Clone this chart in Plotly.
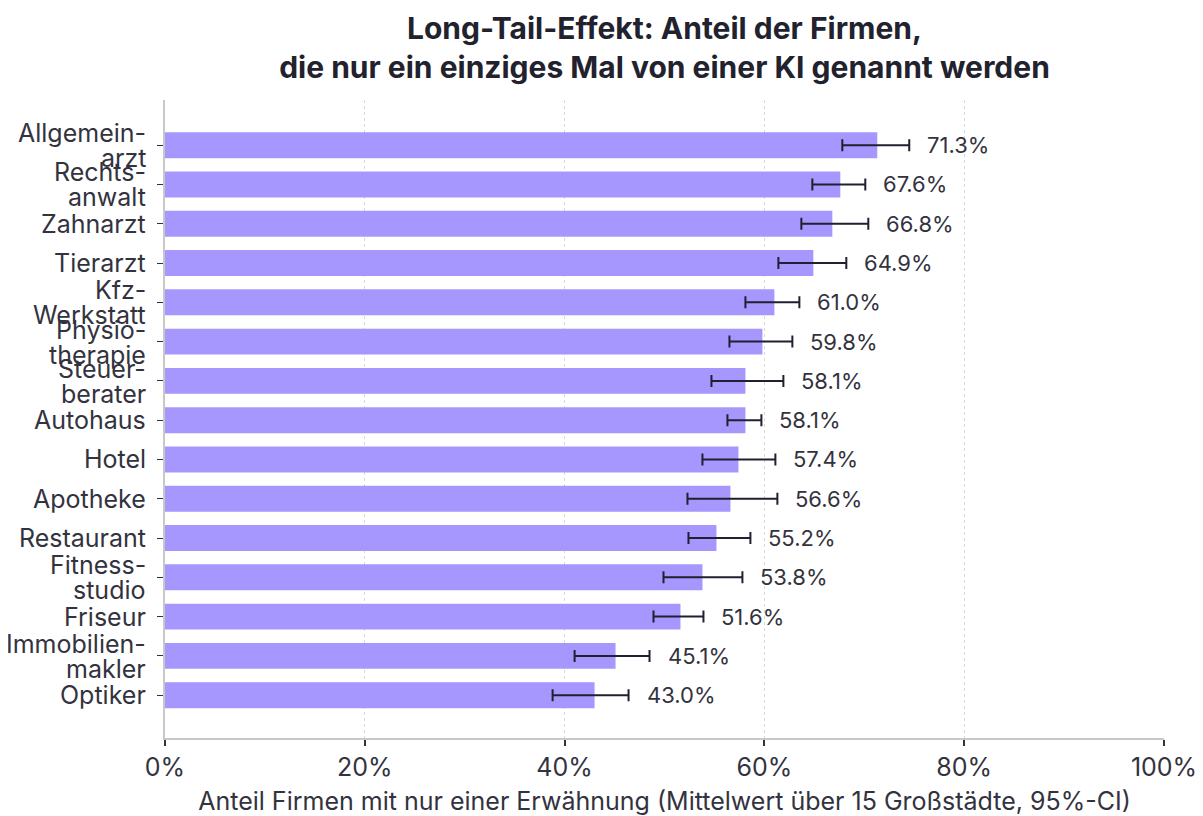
import plotly.graph_objects as go

categories = ["Allgemein-<br>arzt", "Rechts-<br>anwalt", "Zahnarzt", "Tierarzt", "Kfz-<br>Werkstatt",
              "Physio-<br>therapie", "Steuer-<br>berater", "Autohaus", "Hotel", "Apotheke",
              "Restaurant", "Fitness-<br>studio", "Friseur", "Immobilien-<br>makler", "Optiker"]
values = [71.3, 67.6, 66.8, 64.9, 61.0, 59.8, 58.1, 58.1, 57.4, 56.6, 55.2, 53.8, 51.6, 45.1, 43.0]
ci_low = [67.8, 64.8, 63.7, 61.4, 58.1, 56.5, 54.7, 56.3, 53.8, 52.3, 52.4, 49.9, 48.9, 41.0, 38.8]
ci_high = [74.5, 70.1, 70.4, 68.2, 63.5, 62.8, 61.9, 59.7, 61.1, 61.3, 58.6, 57.8, 53.9, 48.5, 46.4]
x_ticks = [0, 20, 40, 60, 80, 100]
x_ticklabels = ["0%", "20%", "40%", "60%", "80%", "100%"]

FONT = "Inter, Roboto, sans-serif"
TXT = "#333340"
idx = list(range(len(categories)))

fig = go.Figure()
fig.add_trace(go.Bar(
    y=idx, x=values, orientation="h",
    marker=dict(color="#A597FD", line=dict(width=0)),
    width=0.66,
    error_x=dict(type="data", symmetric=False,
                 array=[h - v for h, v in zip(ci_high, values)],
                 arrayminus=[v - l for v, l in zip(values, ci_low)],
                 color="#1f2030", thickness=2, width=6),
    hoverinfo="skip",
))

for i, (v, h) in enumerate(zip(values, ci_high)):
    fig.add_annotation(x=h, y=i, text=f"{v:.1f}%", showarrow=False,
                       xanchor="left", xshift=16,
                       font=dict(family=FONT, size=22, color=TXT))

# category labels (tight line spacing, as in the reference)
for i, lab in enumerate(categories):
    lines = lab.split("<br>")
    n = len(lines)
    for k, line in enumerate(lines):
        shift = 0 if n == 1 else (12 if k == 0 else -13)
        fig.add_annotation(xref="paper", x=0, y=i, text=line, showarrow=False,
                           xanchor="right", xshift=-17, yshift=shift,
                           font=dict(family=FONT, size=25, color=TXT))

fig.update_layout(
    width=1195, height=808,
    paper_bgcolor="white", plot_bgcolor="white",
    margin=dict(l=157, r=39, t=92, b=78),
    showlegend=False,
    title=dict(text="<b>Long-Tail-Effekt: Anteil der Firmen,<br>die nur ein einziges Mal von einer KI genannt werden</b>",
               x=(157 + 1156) / 2 / 1195, xanchor="center", y=1 - 31 / 808, yanchor="middle",
               font=dict(family=FONT, size=30, color="#22222e")),
    font=dict(family=FONT, color=TXT),
)
fig.update_xaxes(range=[0, 100], tickvals=x_ticks, ticktext=x_ticklabels,
                 showgrid=True, gridcolor="#d8d8d8", griddash="dot", gridwidth=1,
                 showline=True, linecolor="#c8c8c8", linewidth=2,
                 ticks="outside", ticklen=6, tickcolor=TXT, tickwidth=1.5,
                 tickfont=dict(family=FONT, size=25, color=TXT),
                 title=dict(text="Anteil Firmen mit nur einer Erwähnung (Mittelwert über 15 Großstädte, 95%-CI)",
                            font=dict(family=FONT, size=25, color=TXT), standoff=19),
                 zeroline=False, automargin=False)
fig.update_yaxes(range=[15.09, -1.15], tickvals=idx, ticktext=["" for _ in idx],
                 showgrid=False, showline=True, linecolor="#c8c8c8", linewidth=2,
                 ticks="outside", ticklen=6, tickcolor=TXT,
                 zeroline=False, automargin=False)

fig.write_html("out.html")
